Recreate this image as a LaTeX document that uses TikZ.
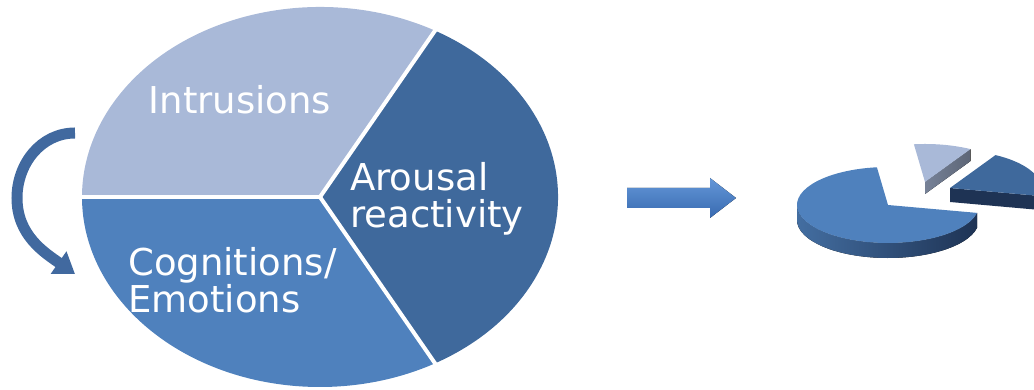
\documentclass[tikz,border=0pt]{standalone}
\usepackage{fontspec}
\setmainfont{DejaVu Sans}
\usetikzlibrary{arrows.meta, positioning}

\definecolor{intrblue}{HTML}{A9B9D8}
\definecolor{arousblue}{HTML}{3F699C}
\definecolor{cogblue}{HTML}{4F81BD}
\definecolor{loopblue}{HTML}{41699F}
\definecolor{deepblue}{HTML}{1E3354}
\definecolor{flowtop}{HTML}{6497D8}
\definecolor{flowbottom}{HTML}{386AB0}

\begin{document}
\begin{tikzpicture}[
    x=1pt, y=1pt,
    slicetext/.style={text=white, font=\fontsize{37}{37}\selectfont, align=left, inner sep=0pt},
    separator/.style={white, line width=4pt},
    looparrow/.style={loopblue, line width=11pt, -{Triangle[width=26pt, length=20pt]}},
    flowarrow/.style={top color=flowtop, bottom color=flowbottom}
]
\useasboundingbox (0,0) rectangle (1034,390);
\clip (0,0) rectangle (1034,390);

% Big pie
\coordinate (centre) at (320,193);
\fill[intrblue] (centre) -- ++(61:238 and 190) arc[start angle=61, end angle=180, x radius=238, y radius=190] -- cycle;
\fill[arousblue] (centre) -- ++(-61:238 and 190) arc[start angle=-61, end angle=61, x radius=238, y radius=190] -- cycle;
\fill[cogblue] (centre) -- ++(180:238 and 190) arc[start angle=180, end angle=299, x radius=238, y radius=190] -- cycle;
\draw[separator] (centre) -- ++(180:242 and 194);
\draw[separator] (centre) -- ++(61:242 and 194);
\draw[separator] (centre) -- ++(-61:242 and 194);

% Slice labels
\node[slicetext] (intrusions) at (240,290) {Intrusions};
\node[slicetext, anchor=west] (arousal) at (350,191) {Arousal\\reactivity};
\node[slicetext, anchor=west] (cognitions) at (128,110) {Cognitions/\\Emotions};

% Loop on the left
\coordinate (loopstart) at (75,257);
\coordinate (loopmid) at (17,192);
\coordinate (loopend) at (75,116);
\draw[looparrow] (loopstart) to[out=180, in=90] (loopmid) to[out=-90, in=145] (loopend);

% Arrow to the small pie
\coordinate (flowtail) at (627,192);
\fill[flowarrow] (flowtail) ++(0,-10) -- ++(83,0) -- ++(0,-10) -- ++(26,20) -- ++(-26,20) -- ++(0,-10) -- ++(-83,0) -- cycle;

% Small exploded pie
\coordinate (mainpiece) at (888,185);
\coordinate (lightpiece) at (925,208);
\coordinate (darkpiece) at (950,202);

\fill[left color=cogblue!85!black, right color=deepblue] (mainpiece) ++(180:91 and 38) arc[start angle=180, end angle=348, x radius=91, y radius=38] -- ++(0,-15) arc[start angle=348, end angle=180, x radius=91, y radius=38] -- cycle;
\fill[cogblue] (mainpiece) -- ++(97:91 and 38) arc[start angle=97, end angle=348, x radius=91, y radius=38] -- cycle;

\fill[left color=intrblue!70!black, right color=intrblue!55!black] (lightpiece) -- ++(60:91 and 38) -- ++(0,-12) -- ++(240:91 and 38) -- cycle;
\fill[intrblue] (lightpiece) -- ++(60:91 and 38) arc[start angle=60, end angle=97, x radius=91, y radius=38] -- cycle;

\fill[deepblue] (darkpiece) -- ++(-12:91 and 38) -- ++(0,-14) -- ++(168:91 and 38) -- cycle;
\fill[arousblue] (darkpiece) -- ++(-12:91 and 38) arc[start angle=-12, end angle=60, x radius=91, y radius=38] -- cycle;

\end{tikzpicture}
\end{document}
